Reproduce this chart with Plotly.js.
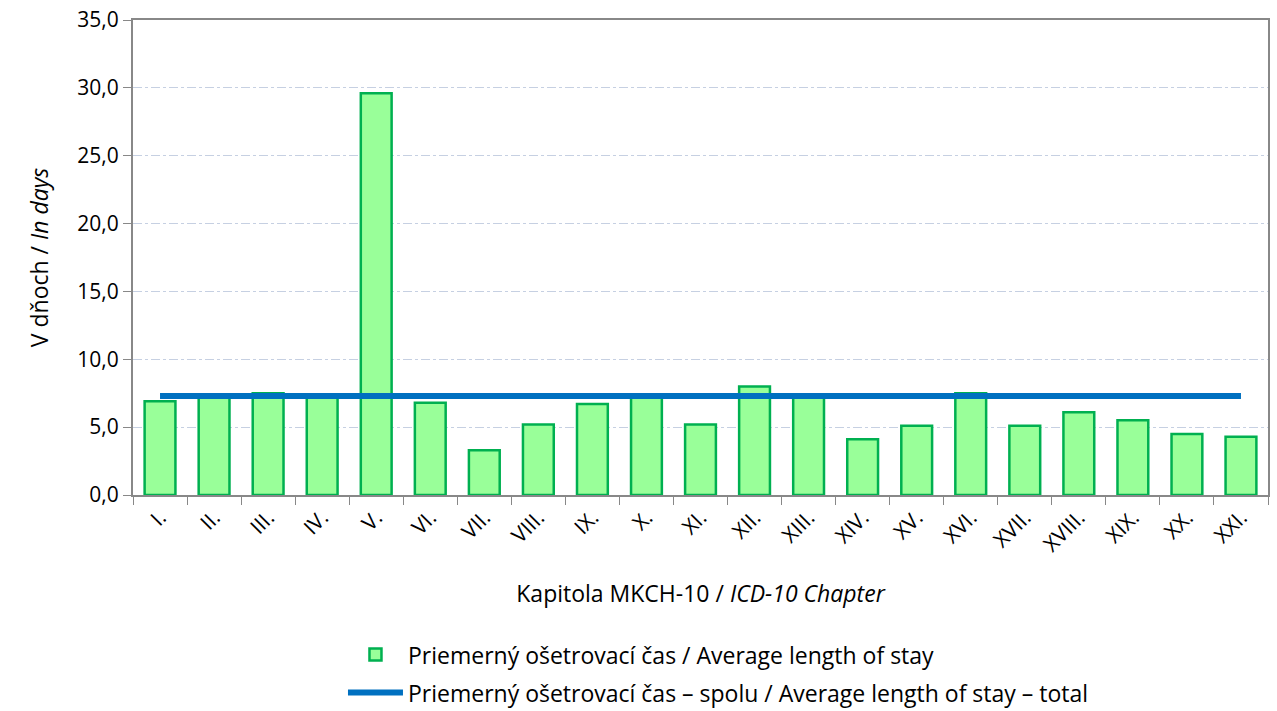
<!DOCTYPE html>
<html>
<head>
<meta charset="utf-8">
<script src="https://cdn.plot.ly/plotly-3.0.1.min.js"></script>
<style>html,body{margin:0;padding:0;background:#fff;}#chart{width:1277px;height:711px;}</style>
</head>
<body>
<div id="chart"></div>
<script>
const chapters = ["I.","II.","III.","IV.","V.","VI.","VII.","VIII.","IX.","X.","XI.","XII.","XIII.","XIV.","XV.","XVI.","XVII.","XVIII.","XIX.","XX.","XXI."];
const avgStay = [6.9,7.3,7.5,7.3,29.6,6.8,3.3,5.2,6.7,7.3,5.2,8.0,7.4,4.1,5.1,7.5,5.1,6.1,5.5,4.5,4.3];
const avgTotal = [7.3,7.3,7.3,7.3,7.3,7.3,7.3,7.3,7.3,7.3,7.3,7.3,7.3,7.3,7.3,7.3,7.3,7.3,7.3,7.3,7.3];
const barName = "Priemerný ošetrovací čas / Average length of stay";
const lineName = "Priemerný ošetrovací čas – spolu / Average length of stay – total";

const font = "'Open Sans', Lato, sans-serif";
const data = [
  {type:"bar", x:chapters, y:avgStay, name:barName, legend:"legend",
   marker:{color:"#99FF99", line:{color:"#00B050", width:2.5}}},
  {type:"scatter", mode:"lines", x:chapters, y:avgTotal, name:lineName, legend:"legend2",
   line:{color:"#0070C0", width:6}}
];
const layout = {
  width:1277, height:711,
  margin:{l:133, r:9, t:20, b:216, autoexpand:false},
  paper_bgcolor:"#fff", plot_bgcolor:"#fff",
  font:{family:font, size:21, color:"#000"},
  separators:",.",
  bargap:0.43,
  showlegend:true,
  legend:{orientation:"v", x:0.185, xanchor:"left", y:-0.336, yanchor:"middle",
          font:{size:23, family:font}, itemwidth:55, bgcolor:"rgba(0,0,0,0)"},
  legend2:{orientation:"v", x:0.185, xanchor:"left", y:-0.416, yanchor:"middle",
          font:{size:23, family:font}, itemwidth:55, bgcolor:"rgba(0,0,0,0)"},
  xaxis:{type:"category", tickson:"boundaries", ticks:"outside", ticklen:8, tickcolor:"#888",
         showline:true, linecolor:"#888", linewidth:2, mirror:true, showgrid:false,
         tickangle:-45, tickfont:{size:21},
         title:{text:"Kapitola MKCH-10 / <i>ICD-10 Chapter</i>", font:{size:23}, standoff:30}},
  yaxis:{range:[0,35], dtick:5, tickformat:".1f", ticks:"outside", ticklen:8, tickcolor:"#888",
         showline:true, linecolor:"#888", linewidth:2, mirror:true,
         showgrid:true, gridcolor:"#C6D0E2", griddash:"dashdot", gridwidth:1,
         zeroline:false, tickfont:{size:21},
         title:{text:"V dňoch / <i>In days</i>", font:{size:23}, standoff:22}}
};
Plotly.newPlot("chart", data, layout, {displayModeBar:false, staticPlot:true});
</script>
</body>
</html>
